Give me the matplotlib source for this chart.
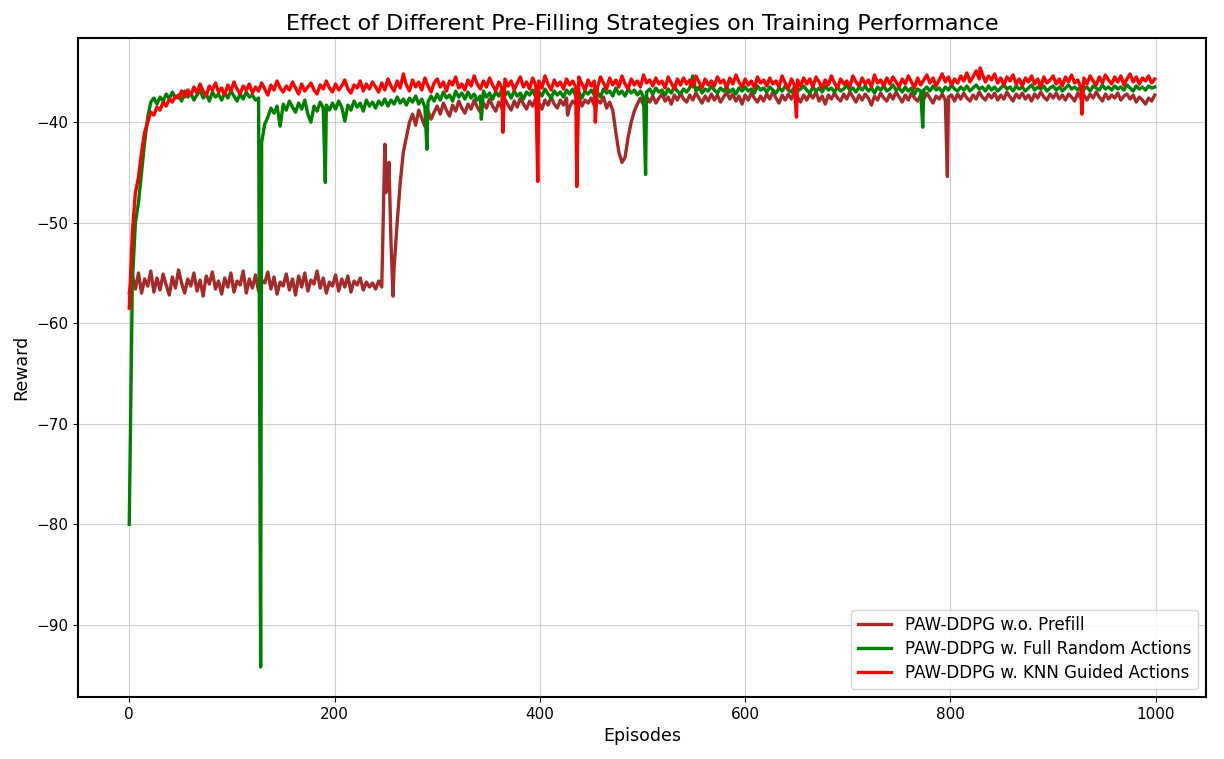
import numpy as np
import matplotlib.pyplot as plt

# Episodes sampled every 3 steps (0 ... 999)
episodes = list(range(0, 1000, 3))

# Reward, one row per 30 episodes
no_prefill = [
    -57.0, -55.2, -56.6, -55.0, -57.0, -55.6, -56.3, -54.8, -56.9, -55.5,
    -56.7, -55.1, -56.2, -57.2, -55.4, -56.5, -54.7, -56.0, -57.0, -55.6,
    -56.3, -55.0, -56.8, -55.7, -57.3, -55.3, -56.1, -54.9, -56.6, -55.8,
    -57.1, -55.5, -56.4, -55.0, -56.9, -55.8, -56.2, -54.8, -57.0, -55.6,
    -56.5, -55.2, -56.8, -55.7, -56.0, -54.9, -56.6, -55.4, -57.1, -55.9,
    -56.3, -55.1, -56.7, -55.6, -57.2, -55.3, -56.4, -55.0, -56.8, -55.7,
    -56.1, -54.8, -56.5, -55.5, -57.0, -55.9, -56.3, -55.2, -56.8, -55.6,
    -56.4, -55.3, -56.9, -55.8, -56.2, -55.5, -56.7, -55.9, -56.4, -56.0,
    -56.6, -55.8, -56.4, -42.2, -46.0, -52.0, -54.5, -50.0, -46.0, -43.0,
    -41.5, -40.0, -39.2, -40.3, -38.8, -39.6, -40.4, -38.9, -39.7, -39.0,
    -38.4, -39.2, -38.1, -38.8, -39.4, -38.3, -38.9, -37.9, -38.6, -39.1,
    -38.2, -38.7, -37.8, -38.5, -39.0, -38.1, -38.6, -37.7, -38.4, -38.9,
    -38.0, -38.6, -37.7, -38.3, -38.8, -37.9, -38.5, -37.6, -38.2, -38.7,
    -37.9, -38.4, -37.6, -38.1, -38.7, -37.8, -38.3, -37.5, -38.2, -38.6,
    -37.8, -38.3, -37.6, -38.5, -37.9, -38.2, -37.5, -38.4, -37.8, -38.1,
    -37.6, -38.3, -37.8, -38.1, -37.5, -38.6, -38.0, -38.8, -41.0, -43.0,
    -44.0, -43.5, -41.5, -40.0, -38.9, -38.2, -37.6, -38.3, -37.5, -38.0,
    -37.4, -38.1, -37.6, -37.2, -37.9, -37.5, -38.2, -37.3, -37.8, -37.1,
    -37.7, -38.0, -37.3, -37.8, -37.1, -37.6, -38.1, -37.4, -37.9, -37.2,
    -37.8, -37.3, -38.0, -37.5, -37.0, -37.7, -37.2, -37.9, -37.4, -38.2,
    -37.3, -37.8, -37.1, -37.6, -38.0, -37.4, -37.9, -37.2, -37.7, -37.0,
    -37.6, -38.1, -37.3, -37.8, -37.2, -37.7, -37.0, -37.5, -38.0, -37.3,
    -37.8, -37.2, -37.6, -37.0, -37.9, -37.4, -38.2, -37.3, -37.7, -37.1,
    -37.6, -37.9, -37.2, -37.7, -37.0, -37.5, -38.0, -37.3, -37.8, -37.2,
    -37.6, -38.3, -37.4, -37.8, -37.1, -37.6, -37.9, -37.2, -37.7, -37.0,
    -37.5, -38.0, -37.3, -37.8, -37.1, -37.6, -37.9, -37.3, -37.7, -37.1,
    -37.6, -38.1, -37.4, -37.7, -37.2, -37.8, -37.5, -37.3, -37.9, -37.2,
    -37.7, -37.1, -37.6, -37.9, -37.3, -37.7, -37.0, -37.5, -37.8, -37.2,
    -37.6, -37.1, -37.8, -37.3, -37.7, -37.0, -37.5, -37.9, -37.2, -37.6,
    -37.1, -37.7, -37.3, -37.9, -37.2, -37.6, -37.0, -37.5, -37.8, -37.2,
    -37.6, -37.1, -37.7, -37.3, -37.8, -37.2, -37.5, -37.9, -37.1, -37.6,
    -37.3, -37.8, -37.2, -37.6, -37.0, -37.5, -37.9, -37.2, -37.7, -37.3,
    -37.6, -37.1, -37.8, -37.4, -37.2, -37.7, -37.3, -38.0, -37.5, -37.8,
    -38.2, -37.6, -37.9, -37.3,
]

full_random = [
    -80.0, -56.0, -50.0, -48.0, -45.0, -42.0, -39.5, -38.0, -37.6, -38.2,
    -37.5, -37.9, -37.2, -37.7, -37.0, -37.6, -37.3, -37.9, -36.9, -37.5,
    -37.1, -37.8, -37.3, -36.8, -37.6, -37.2, -37.9, -37.0, -37.5, -37.2,
    -37.8, -37.1, -37.6, -36.9, -37.4, -37.9, -37.2, -37.7, -37.0, -37.5,
    -37.3, -37.8, -37.6, -42.0, -40.2, -39.5, -38.6, -39.1, -38.4, -40.4,
    -38.2, -38.8, -37.9, -38.5, -39.0, -38.1, -38.7, -37.8, -39.2, -40.0,
    -38.4, -38.9, -38.0, -38.6, -38.3, -38.8, -38.1, -38.7, -37.9, -38.5,
    -39.9, -38.3, -38.8, -37.9, -38.5, -38.1, -38.9, -37.8, -38.4, -38.0,
    -38.6, -37.9, -38.3, -37.7, -38.4, -37.8, -38.2, -37.5, -38.1, -37.7,
    -38.3, -37.6, -38.0, -37.4, -38.2, -37.7, -38.5, -38.0, -37.4, -37.9,
    -37.2, -37.8, -37.0, -37.6, -37.3, -37.9, -36.9, -37.5, -37.1, -37.7,
    -37.0, -37.6, -37.2, -37.8, -37.4, -36.9, -37.5, -37.1, -37.7, -37.0,
    -37.4, -36.8, -37.3, -37.0, -37.6, -36.9, -37.4, -37.1, -37.7, -37.0,
    -37.3, -36.8, -37.5, -37.0, -37.4, -36.7, -37.2, -37.6, -36.9, -37.3,
    -37.0, -37.5, -36.8, -37.2, -36.7, -37.4, -37.0, -37.6, -36.9, -37.2,
    -36.8, -37.3, -37.0, -37.5, -36.7, -37.1, -36.9, -37.4, -36.6, -37.2,
    -36.9, -37.4, -36.7, -37.1, -36.8, -37.3, -36.9, -37.5, -37.0, -36.7,
    -37.2, -36.6, -37.0, -36.8, -37.3, -36.7, -37.1, -36.5, -36.9, -37.2,
    -36.7, -37.0, -36.6, -35.4, -36.9, -36.5, -37.1, -36.7, -36.9, -36.4,
    -36.8, -37.1, -36.6, -36.9, -36.5, -37.0, -36.7, -37.2, -36.6, -36.9,
    -36.5, -36.9, -36.7, -37.1, -36.4, -36.8, -36.6, -37.0, -36.5, -36.8,
    -37.1, -36.6, -36.9, -36.4, -36.8, -37.0, -36.5, -36.9, -36.7, -36.4,
    -36.8, -37.1, -36.5, -36.9, -36.6, -37.0, -36.4, -36.8, -36.6, -37.0,
    -36.5, -36.9, -36.7, -36.3, -36.8, -36.6, -37.0, -36.5, -36.8, -36.4,
    -36.9, -36.6, -37.1, -36.5, -36.8, -36.4, -36.9, -36.7, -36.3, -36.8,
    -36.6, -37.0, -36.5, -36.9, -36.6, -37.2, -36.7, -36.9, -36.8, -36.5,
    -36.9, -36.4, -36.8, -36.6, -37.0, -36.5, -36.8, -36.3, -36.7, -36.9,
    -36.5, -36.8, -36.4, -36.9, -36.6, -36.3, -36.7, -36.5, -36.9, -36.4,
    -36.8, -36.5, -36.9, -36.6, -36.3, -36.7, -36.5, -36.9, -36.4, -36.7,
    -36.5, -36.9, -36.6, -36.3, -36.8, -36.5, -36.7, -36.4, -36.9, -36.6,
    -36.4, -36.8, -36.5, -36.9, -36.6, -36.3, -36.7, -36.5, -36.8, -36.4,
    -36.7, -36.5, -36.9, -36.4, -36.6, -36.8, -36.3, -36.7, -36.5, -36.8,
    -36.4, -36.7, -36.5, -36.8, -36.3, -36.6, -36.9, -36.4, -36.7, -36.5,
    -36.8, -36.4, -36.6, -36.5,
]

knn_guided = [
    -58.5, -51.0, -47.0, -45.5, -43.0, -41.0, -40.0, -39.0, -39.3, -38.5,
    -38.8, -38.0, -38.4, -37.7, -38.0, -37.4, -37.6, -36.9, -37.5, -36.8,
    -37.3, -36.5, -37.1, -36.2, -36.9, -37.4, -36.4, -36.8, -36.1, -37.0,
    -36.6, -37.3, -36.3, -36.9, -36.0, -36.7, -37.2, -36.4, -36.8, -36.2,
    -37.1, -36.5, -36.9, -36.1, -36.7, -37.3, -36.3, -36.8, -35.9, -36.6,
    -37.0, -36.4, -36.8, -36.0, -36.6, -37.2, -36.2, -36.9, -36.5, -36.1,
    -36.8, -37.2, -36.3, -36.7, -35.9, -36.6, -37.0, -36.2, -36.8, -36.4,
    -35.8, -36.7, -37.1, -36.3, -36.6, -35.9, -36.9, -36.2, -36.7, -36.0,
    -36.5, -37.0, -36.1, -36.8, -35.7, -36.4, -36.9, -35.9, -36.6, -35.2,
    -36.3, -36.9, -35.8, -36.5, -36.0, -36.8, -35.6, -36.4, -37.0, -36.1,
    -35.7, -36.5, -36.0, -36.9, -35.9, -36.3, -35.5, -36.6, -36.2, -36.8,
    -35.8, -36.4, -35.4, -36.2, -36.7, -35.9, -36.5, -35.6, -36.3, -36.9,
    -36.0, -36.6, -35.7, -36.4, -35.9, -36.8, -36.1, -35.5, -36.5, -36.0,
    -36.7, -35.6, -36.3, -35.9, -36.6, -35.4, -36.2, -36.8, -35.8, -36.4,
    -36.0, -36.7, -35.7, -36.3, -35.9, -36.5, -35.5, -36.2, -36.8, -35.8,
    -36.4, -35.9, -36.6, -35.5, -36.1, -36.7, -35.6, -36.3, -35.8, -36.5,
    -35.4, -36.2, -36.7, -35.7, -36.3, -35.9, -36.5, -35.3, -36.1, -35.8,
    -36.4, -35.6, -36.2, -35.9, -36.6, -35.5, -36.1, -36.7, -35.7, -36.3,
    -35.6, -36.2, -35.8, -36.5, -35.4, -36.0, -36.6, -35.7, -36.3, -35.9,
    -36.4, -35.5, -36.1, -35.8, -36.6, -35.6, -36.2, -35.3, -36.0, -36.5,
    -35.7, -36.3, -35.9, -36.6, -35.5, -36.1, -35.8, -36.4, -35.6, -36.2,
    -35.9, -36.5, -35.4, -36.1, -36.7, -35.7, -36.3, -35.8, -36.4, -35.6,
    -36.2, -35.7, -36.5, -35.5, -36.0, -36.6, -35.8, -36.3, -35.4, -36.1,
    -36.6, -35.7, -36.2, -35.9, -36.5, -35.4, -36.0, -36.4, -35.6, -36.2,
    -35.8, -36.5, -35.3, -36.1, -35.8, -36.4, -35.6, -36.2, -35.5, -36.0,
    -36.5, -35.7, -36.2, -35.4, -36.0, -36.6, -35.6, -36.3, -35.8, -35.3,
    -36.1, -35.6, -36.4, -35.8, -35.2, -36.0, -35.5, -36.3, -35.7, -36.1,
    -35.4, -35.9, -35.1, -36.0, -35.5, -34.9, -35.7, -35.2, -36.0, -35.4,
    -35.8, -35.2, -36.1, -35.6, -36.3, -35.5, -35.9, -35.3, -36.2, -35.7,
    -36.4, -35.6, -36.0, -35.4, -36.2, -35.7, -36.5, -35.5, -36.1, -35.8,
    -35.4, -36.2, -35.7, -36.4, -35.5, -36.0, -35.3, -36.1, -35.8, -36.5,
    -35.6, -36.2, -35.4, -35.9, -36.3, -35.5, -36.1, -35.3, -35.8, -36.2,
    -35.5, -36.0, -35.4, -36.3, -35.7, -35.2, -36.0, -35.5, -36.2, -35.6,
    -35.9, -35.4, -36.1, -35.7,
]

# Single-episode dips and jumps between the samples: (episode, reward)
no_prefill_spikes = [(250, -47.0), (253, -44.0), (257, -57.3),
                     (427, -39.3), (797, -45.4)]
full_random_spikes = [(128, -94.2), (191, -46.0), (290, -42.7), (343, -39.7),
                      (503, -45.2), (773, -40.5)]
knn_guided_spikes = [(364, -41.0), (398, -45.9), (436, -46.4), (454, -40.0),
                     (650, -39.5), (829, -34.6), (928, -39.2)]

labels = ['PAW-DDPG w.o. Prefill', 'PAW-DDPG w. Full Random Actions',
          'PAW-DDPG w. KNN Guided Actions']
colors = ['brown', 'green', 'red']


def merge(values, spikes):
    # puts the spike points into the sampled series, ordered by episode
    if len(values) != len(episodes):
        raise ValueError('series length %d != %d' % (len(values), len(episodes)))
    x = np.array(episodes + [s[0] for s in spikes], dtype=float)
    y = np.array(values + [s[1] for s in spikes], dtype=float)
    order = np.argsort(x, kind='stable')
    return x[order], y[order]


series = [(no_prefill, no_prefill_spikes), (full_random, full_random_spikes),
          (knn_guided, knn_guided_spikes)]

fig = plt.figure(figsize=(12.24, 7.59), dpi=100)
ax = fig.add_axes([0.0637, 0.0817, 0.9216, 0.8683])

for (values, spikes), label, color in zip(series, labels, colors):
    x, y = merge(values, spikes)
    ax.plot(x, y, color=color, linewidth=2.4, label=label)

ax.set_title('Effect of Different Pre-Filling Strategies on Training Performance', fontsize=16)
ax.set_xlabel('Episodes', fontsize=12.5)
ax.set_ylabel('Reward', fontsize=12.5)
ax.tick_params(labelsize=11)
ax.grid(True, alpha=0.6)
for spine in ax.spines.values():
    spine.set_linewidth(1.5)
ax.legend(loc='lower right', fontsize=12, labelspacing=0.35)

fig.savefig('out.png', dpi=100)
